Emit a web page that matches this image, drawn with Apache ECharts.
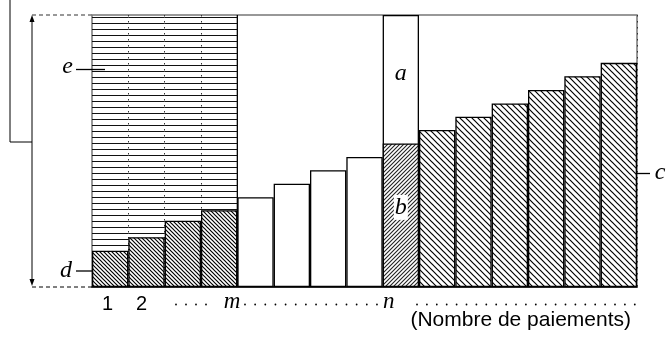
<!DOCTYPE html>
<html>
<head>
<meta charset="utf-8">
<script src="https://cdn.jsdelivr.net/npm/echarts@6/dist/echarts.min.js"></script>
<style>
  html, body { margin: 0; padding: 0; background: #fff; }
  #chart { width: 667px; height: 340px; }
</style>
</head>
<body>
<div id="chart"></div>
<script>
// 15 paiements, seuls 1, 2, m et n sont nommés
const categories = ['1','2','3','4','5','6','7','8','9','10','11','12','13','14','15'];
const tickLabels = ['1','2','','m','','','','','n','','','','','',''];
// valeurs en % de la hauteur totale
const eValues     = [100, 100, 100, 100, '-', '-', '-', '-', '-', '-', '-', '-', '-', '-', '-'];
const dValues     = [13.3, 18.3, 24.4, 28.2, '-', '-', '-', '-', '-', '-', '-', '-', '-', '-', '-'];
const plainValues = ['-', '-', '-', '-', 33.0, 38.0, 42.9, 47.8, '-', '-', '-', '-', '-', '-', '-'];
const aValues     = ['-', '-', '-', '-', '-', '-', '-', '-', 100, '-', '-', '-', '-', '-', '-'];
const bValues     = ['-', '-', '-', '-', '-', '-', '-', '-', 52.8, '-', '-', '-', '-', '-', '-'];
const cValues     = ['-', '-', '-', '-', '-', '-', '-', '-', '-', 57.7, 62.6, 67.5, 72.4, 77.5, 82.4];

const SANS = 'Liberation Sans';
const SERIF = 'Liberation Serif';

// motifs de hachures
function hatch(size, dir, lw, color) {
  const cv = document.createElement('canvas');
  cv.width = size; cv.height = size;
  const g = cv.getContext('2d');
  g.fillStyle = '#fff';
  g.fillRect(0, 0, size, size);
  g.strokeStyle = color; g.lineWidth = lw;
  g.beginPath();
  for (let k = -1; k <= 1; k++) {
    if (dir === 'back') {
      g.moveTo(k * size - 1, -1); g.lineTo(k * size + size + 1, size + 1);
    } else {
      g.moveTo(k * size - 1, size + 1); g.lineTo(k * size + size + 1, -1);
    }
  }
  g.stroke();
  return cv;
}
function hLines(h, color) {
  const cv = document.createElement('canvas');
  cv.width = 8; cv.height = h;
  const g = cv.getContext('2d');
  g.fillStyle = color;
  g.fillRect(0, h - 1, 8, 1);
  return cv;
}

const border = { borderColor: '#000', borderWidth: 1.3 };
const bar = { type: 'bar', barWidth: '100%', barGap: '-100%', silent: true, animation: false };

const chart = echarts.init(document.getElementById('chart'), null, { renderer: 'canvas' });

const labelKey = { '1': 'n1', '2': 'n2', 'm': 'itm', 'n': 'itn' };

const option = {
  backgroundColor: '#fff',
  animation: false,
  grid: { left: 92, right: 30, top: 15, bottom: 53, show: true, borderColor: '#777', borderWidth: 1.5, outerBoundsMode: 'none' },
  xAxis: [
    {
      type: 'category',
      data: categories,
      axisLine: { lineStyle: { color: '#000', width: 1.5 } },
      axisTick: { show: false },
      axisLabel: {
        interval: 0,
        margin: 17,
        verticalAlign: 'middle',
        formatter: (v, i) => tickLabels[i] ? '{' + labelKey[tickLabels[i]] + '|' + tickLabels[i] + '}' : '',
        rich: {
          n1: { fontFamily: SANS, fontSize: 20, color: '#000', padding: [0, 5, 0, 0] },
          n2: { fontFamily: SANS, fontSize: 20, color: '#000', padding: [0, 10, 0, 0] },
          itm: { fontFamily: SERIF, fontStyle: 'italic', fontSize: 23, color: '#000', padding: [0, 0, 4, 26] },
          itn: { fontFamily: SERIF, fontStyle: 'italic', fontSize: 23, color: '#000', padding: [0, 24, 4, 0] }
        }
      },
      name: '(Nombre de paiements)',
      nameLocation: 'end',
      nameGap: -6,
      nameTextStyle: { fontFamily: SANS, fontSize: 21, color: '#000', align: 'right', verticalAlign: 'top', padding: [23, 0, 0, 0] }
    },
    {
      type: 'category',
      data: categories,
      position: 'top',
      axisLine: { show: false },
      axisTick: { show: false },
      axisLabel: { show: false },
      splitLine: { show: true, interval: (i) => i >= 1 && i <= 3, lineStyle: { color: '#333', width: 1, type: [1.5, 4.5] } }
    }
  ],
  yAxis: { type: 'value', min: 0, max: 100, show: false },
  series: [
    Object.assign({}, bar, { name: 'e', data: eValues,
      itemStyle: { color: { image: hLines(6, '#111'), repeat: 'repeat' }, borderWidth: 0 } }),
    Object.assign({}, bar, { name: 'a', data: aValues,
      itemStyle: Object.assign({ color: '#fff' }, border),
      label: { show: true, formatter: 'a', position: ['50%', 59], align: 'center', verticalAlign: 'middle',
        fontFamily: SERIF, fontStyle: 'italic', fontSize: 24, color: '#000' } }),
    Object.assign({}, bar, { name: 'd', data: dValues,
      itemStyle: Object.assign({ color: { image: hatch(4, 'back', 1.2, '#000'), repeat: 'repeat' } }, border) }),
    Object.assign({}, bar, { name: 'plain', data: plainValues,
      itemStyle: Object.assign({ color: '#fff' }, border) }),
    Object.assign({}, bar, { name: 'b', data: bValues,
      itemStyle: Object.assign({ color: { image: hatch(4, 'fwd', 1.1, '#222'), repeat: 'repeat' } }, border),
      label: { show: true, formatter: 'b', position: ['50%', 64], align: 'center', verticalAlign: 'middle',
        fontFamily: SERIF, fontStyle: 'italic', fontSize: 24, color: '#000', backgroundColor: '#fff', padding: [1, 1, 0, 1] } }),
    Object.assign({}, bar, { name: 'c', data: cValues,
      itemStyle: Object.assign({ color: { image: hatch(6, 'back', 1.2, '#000'), repeat: 'repeat' } }, border) })
  ]
};
chart.setOption(option);

// annotations autour du graphique
const c0 = chart.convertToPixel({ xAxisIndex: 0 }, categories[0]);
const c1 = chart.convertToPixel({ xAxisIndex: 0 }, categories[1]);
const band = c1 - c0;
const left = c0 - band / 2;
const yTop = chart.convertToPixel({ yAxisIndex: 0 }, 100);
const yBot = chart.convertToPixel({ yAxisIndex: 0 }, 0);
const eRight = chart.convertToPixel({ xAxisIndex: 0 }, categories[3]) + band / 2;
const ax = 32;

const italic = (t, x, y) => ({ type: 'text', x: x, y: y, silent: true,
  style: { text: t, fontFamily: SERIF, fontStyle: 'italic', fontSize: 24, fill: '#000', align: 'center', verticalAlign: 'middle' } });
const seg = (x1, y1, x2, y2, st) => ({ type: 'line', silent: true, shape: { x1: x1, y1: y1, x2: x2, y2: y2 },
  style: Object.assign({ stroke: '#000', lineWidth: 1 }, st || {}) });

const graphics = [
  seg(eRight, yTop, eRight, yBot, { lineWidth: 1.3 }),
  seg(ax, yTop, left, yTop, { stroke: '#777', lineWidth: 1.5, lineDash: [4, 3] }),
  seg(ax, yBot, left, yBot, { lineDash: [4, 3] }),
  seg(ax, yTop + 4, ax, yBot - 4),
  { type: 'polygon', silent: true, shape: { points: [[ax, yTop], [ax - 2.5, yTop + 7], [ax + 2.5, yTop + 7]] }, style: { fill: '#000' } },
  { type: 'polygon', silent: true, shape: { points: [[ax, yBot - 1], [ax - 2.5, yBot - 8], [ax + 2.5, yBot - 8]] }, style: { fill: '#000' } },
  { type: 'polyline', silent: true, shape: { points: [[10, 0], [10, 142], [ax, 142]] }, style: { stroke: '#000', lineWidth: 1, fill: null } },
  italic('e', 67.5, 66.5), seg(76, 69.5, 105, 69.5, { lineWidth: 1.3 }),
  italic('d', 66, 270.5), seg(76, 271, 106, 271, { lineWidth: 1.3 }),
  italic('c', 660, 172.5), seg(623, 173.5, 650, 173.5, { lineWidth: 1.3 })
];

// pointillés sous l'axe
const dotRuns = [[176, 4, 10], [245, 14, 10.15], [417, 23, 9.9]];
dotRuns.forEach(([x0, n, step]) => {
  for (let k = 0; k < n; k++) {
    graphics.push({ type: 'circle', silent: true, shape: { cx: x0 + k * step, cy: 304.5, r: 0.9 }, style: { fill: '#000' } });
  }
});

chart.setOption({ graphic: { elements: graphics } });
</script>
</body>
</html>
